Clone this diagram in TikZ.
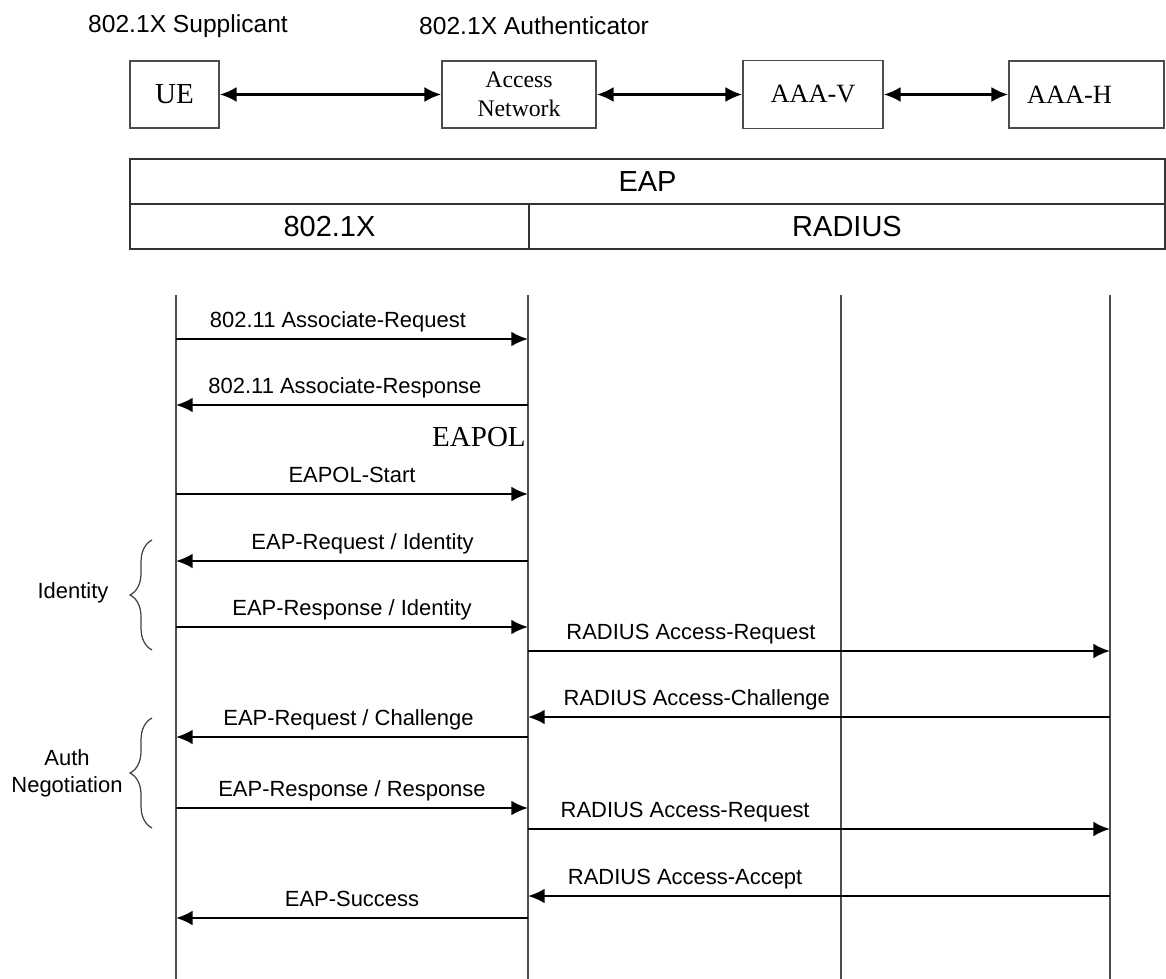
\documentclass[tikz,border=0pt]{standalone}
\usepackage{fontspec}
\setmainfont{Liberation Sans}
\newfontfamily\timesfont{Liberation Serif}
\usetikzlibrary{arrows.meta, decorations.pathreplacing}

\begin{document}
\begin{tikzpicture}[x=0.02cm, y=-0.02cm,
    box/.style={draw=black!70, line width=1pt, inner sep=0pt, font=\timesfont\fontsize{15}{17}\selectfont},
    cell/.style={draw=black!80, line width=0.8pt, minimum height=0.9cm, inner sep=0pt, font=\fontsize{16.5}{18}\selectfont},
    life/.style={black!70, line width=1.2pt},
    msg/.style={-{Latex[length=9.5pt, width=8.5pt]}, line width=1.4pt},
    link/.style={{Latex[length=9.5pt, width=8.5pt]}-{Latex[length=9.5pt, width=8.5pt]}, line width=1.4pt},
    lbl/.style={anchor=base, yshift=6.6pt, inner sep=0pt, font=\fontsize{12.5}{15}\selectfont},
    grp/.style={decorate, decoration={brace, amplitude=12.5pt}, black!75, line width=0.7pt}]

    \useasboundingbox (0,0) rectangle (1166,979);

    \node[anchor=west, font=\fontsize{14}{16}\selectfont] (supp) at (82,26) {802.1X Supplicant};
    \node[anchor=west, font=\fontsize{14}{16}\selectfont] (auth) at (413,26) {802.1X Authenticator};

    \node[box, minimum width=1.78cm, minimum height=1.34cm, font=\timesfont\fontsize{16.5}{18}\selectfont] (ue) at (174.5,94.5) {UE};
    \node[box, minimum width=3.08cm, minimum height=1.34cm, align=center, font=\timesfont\fontsize{13.5}{16.5}\selectfont] (an) at (519,94.5) {Access\\Network};
    \node[box, minimum width=2.8cm, minimum height=1.36cm] (av) at (813,94.5) {AAA-V};
    \node[box, minimum height=1.34cm, text width=2.38cm, inner xsep=0.36cm, align=left] (ah) at (1086.5,94.5) {AAA-H};

    \draw[link] (ue) -- (an);
    \draw[link] (an) -- (av);
    \draw[link] (av) -- (ah);

    % protocol stack
    \node[cell, minimum width=20.7cm] (eap) at (647.5,181.5) {EAP};
    \node[cell, minimum width=7.98cm] (dot1x) at (329.5,226.5) {802.1X};
    \node[cell, minimum width=12.72cm] (radius) at (847,226.5) {RADIUS};

    % lifelines
    \coordinate (ueT) at (176,295);  \coordinate (ueB) at (176,979);
    \coordinate (anT) at (528,295);  \coordinate (anB) at (528,979);
    \coordinate (avT) at (841,295);  \coordinate (avB) at (841,979);
    \coordinate (ahT) at (1110,295); \coordinate (ahB) at (1110,979);
    \draw[life] (ueT) -- (ueB);
    \draw[life] (anT) -- (anB);
    \draw[life] (avT) -- (avB);
    \draw[life] (ahT) -- (ahB);

    \coordinate (r1) at (0,339);
    \coordinate (r2) at (0,405);
    \coordinate (r3) at (0,494);
    \coordinate (r4) at (0,561);
    \coordinate (r5) at (0,627);
    \coordinate (r6) at (0,651);
    \coordinate (r7) at (0,717);
    \coordinate (r8) at (0,737);
    \coordinate (r9) at (0,808);
    \coordinate (r10) at (0,829);
    \coordinate (r11) at (0,896);
    \coordinate (r12) at (0,918);

    \draw[msg] (ueT |- r1) -- node[lbl, pos=0.46]{802.11 Associate-Request} (anT |- r1);
    \draw[msg] (anT |- r2) -- node[lbl, pos=0.52]{802.11 Associate-Response} (ueT |- r2);
    \node[anchor=east, inner sep=0pt, font=\timesfont\fontsize{16.5}{18}\selectfont] (eapol) at (526,437) {EAPOL};
    \draw[msg] (ueT |- r3) -- node[lbl, pos=0.5]{EAPOL-Start} (anT |- r3);
    \draw[msg] (anT |- r4) -- node[lbl, pos=0.47]{EAP-Request / Identity} (ueT |- r4);
    \draw[msg] (ueT |- r5) -- node[lbl, pos=0.5]{EAP-Response / Identity} (anT |- r5);
    \draw[msg] (anT |- r6) -- node[lbl, pos=0.28]{RADIUS Access-Request} (ahT |- r6);
    \draw[msg] (ahT |- r7) -- node[lbl, pos=0.71]{RADIUS Access-Challenge} (anT |- r7);
    \draw[msg] (anT |- r8) -- node[lbl, pos=0.51]{EAP-Request / Challenge} (ueT |- r8);
    \draw[msg] (ueT |- r9) -- node[lbl, pos=0.5]{EAP-Response / Response} (anT |- r9);
    \draw[msg] (anT |- r10) -- node[lbl, pos=0.27]{RADIUS Access-Request} (ahT |- r10);
    \draw[msg] (ahT |- r11) -- node[lbl, pos=0.73]{RADIUS Access-Accept} (anT |- r11);
    \draw[msg] (anT |- r12) -- node[lbl, pos=0.5]{EAP-Success} (ueT |- r12);

    % phases
    \coordinate (idTop) at (152,540);  \coordinate (idBot) at (152,650);
    \coordinate (negTop) at (152,718); \coordinate (negBot) at (152,828);
    \draw[grp] (idBot) -- (idTop);
    \draw[grp] (negBot) -- (negTop);
    \node[font=\fontsize{12.5}{15}\selectfont] (idtxt) at (73,593) {Identity};
    \node[align=center, font=\fontsize{12.5}{15.4}\selectfont] (negtxt) at (67,773) {Auth\\Negotiation};

\end{tikzpicture}
\end{document}
